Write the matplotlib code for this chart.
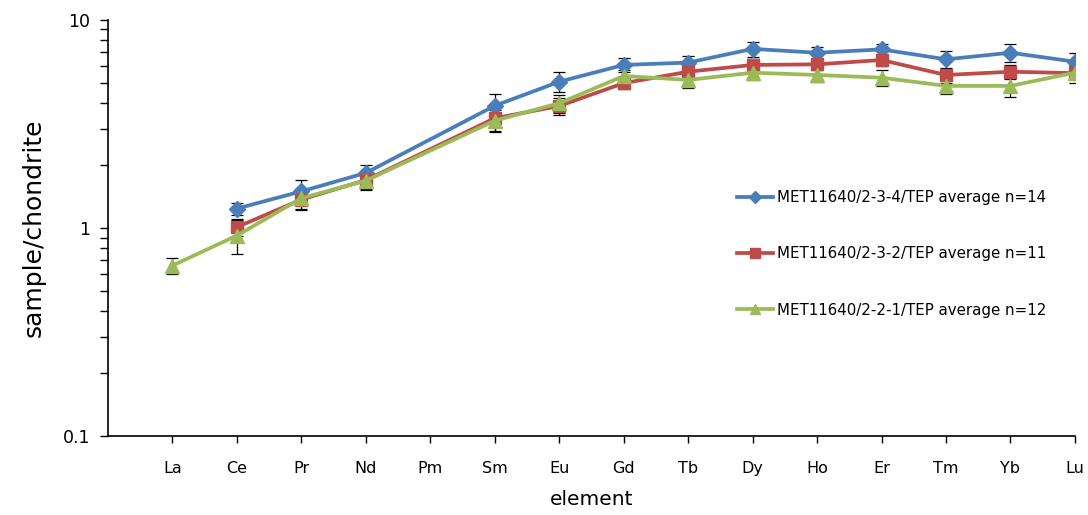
import numpy as np
import matplotlib.pyplot as plt

elements = ['La', 'Ce', 'Pr', 'Nd', 'Pm', 'Sm', 'Eu', 'Gd', 'Tb', 'Dy', 'Ho', 'Er', 'Tm', 'Yb', 'Lu']
nan = np.nan

# chondrite-normalised averages (Pm not measured)
s234 = [nan, 1.24, 1.50, 1.84, nan, 3.87, 5.05, 6.08, 6.24, 7.26, 6.96, 7.22, 6.47, 6.96, 6.30]
s234_err = [nan, 0.08, 0.21, 0.16, nan, 0.53, 0.55, 0.47, 0.50, 0.61, 0.47, 0.43, 0.65, 0.70, 0.61]
s232 = [nan, 1.01, 1.37, 1.70, nan, 3.37, 3.86, 4.97, 5.64, 6.08, 6.12, 6.42, 5.44, 5.64, 5.55]
s232_err = [nan, 0.09, 0.15, 0.18, nan, 0.43, 0.37, 0.32, 0.40, 0.40, 0.40, 0.40, 0.45, 0.45, 0.55]
s221 = [0.66, 0.92, 1.39, 1.69, nan, 3.28, 3.98, 5.38, 5.15, 5.58, 5.44, 5.28, 4.82, 4.82, 5.58]
s221_err = [0.06, 0.17, 0.15, 0.15, nan, 0.40, 0.40, 0.40, 0.45, 0.44, 0.40, 0.46, 0.40, 0.54, 0.40]

series = [
    ('MET11640/2-3-4/TEP average n=14', s234, s234_err, '#4A7EBB', 'D', 8),
    ('MET11640/2-3-2/TEP average n=11', s232, s232_err, '#BE4B48', 's', 9),
    ('MET11640/2-2-1/TEP average n=12', s221, s221_err, '#9BBB59', '^', 9.5),
]

fig = plt.figure(figsize=(10.88, 5.15), dpi=100)
ax = fig.add_axes([0.0993, 0.1534, 0.8887, 0.8078])

x = np.arange(1, len(elements) + 1)
for label, vals, errs, col, mk, ms in series:
    v = np.array(vals)
    e = np.array(errs)
    ok = ~np.isnan(v)
    ax.errorbar(x[ok], v[ok], yerr=e[ok], fmt='none', ecolor='black',
                elinewidth=0.9, capsize=4, capthick=0.9, zorder=2)
    ax.plot(x[ok], v[ok], color=col, lw=2.7, marker=mk, markersize=ms,
            markeredgecolor=col, label=label, zorder=3)

ax.set_yscale('log')
ax.set_ylim(0.1, 10)
ax.set_xlim(0, 15)
ax.set_xticks(x)
ax.set_xticklabels(elements, fontsize=11.5)
ax.set_yticks([0.1, 1, 10])
ax.set_yticklabels(['0.1', '1', '10'], fontsize=12.5)
ax.tick_params(axis='x', direction='out', length=5, width=1, pad=13)
ax.tick_params(axis='y', which='major', direction='out', length=6, width=1, pad=7)
ax.tick_params(axis='y', which='minor', direction='out', length=6, width=1)
ax.yaxis.set_minor_formatter(plt.NullFormatter())
for side in ['top', 'right']:
    ax.spines[side].set_visible(False)
for side in ['left', 'bottom']:
    ax.spines[side].set_linewidth(1.2)

ax.set_xlabel('element', fontsize=14.5, labelpad=10)
ax.set_ylabel('sample/chondrite', fontsize=18, labelpad=12)

ax.legend(loc='center left', bbox_to_anchor=(0.65, 0.4375), frameon=False,
          fontsize=10.8, labelspacing=2.75, handlelength=2.4, handletextpad=0.3,
          borderpad=0, borderaxespad=0, markerscale=0.75)

fig.savefig('out.png', dpi=100)
